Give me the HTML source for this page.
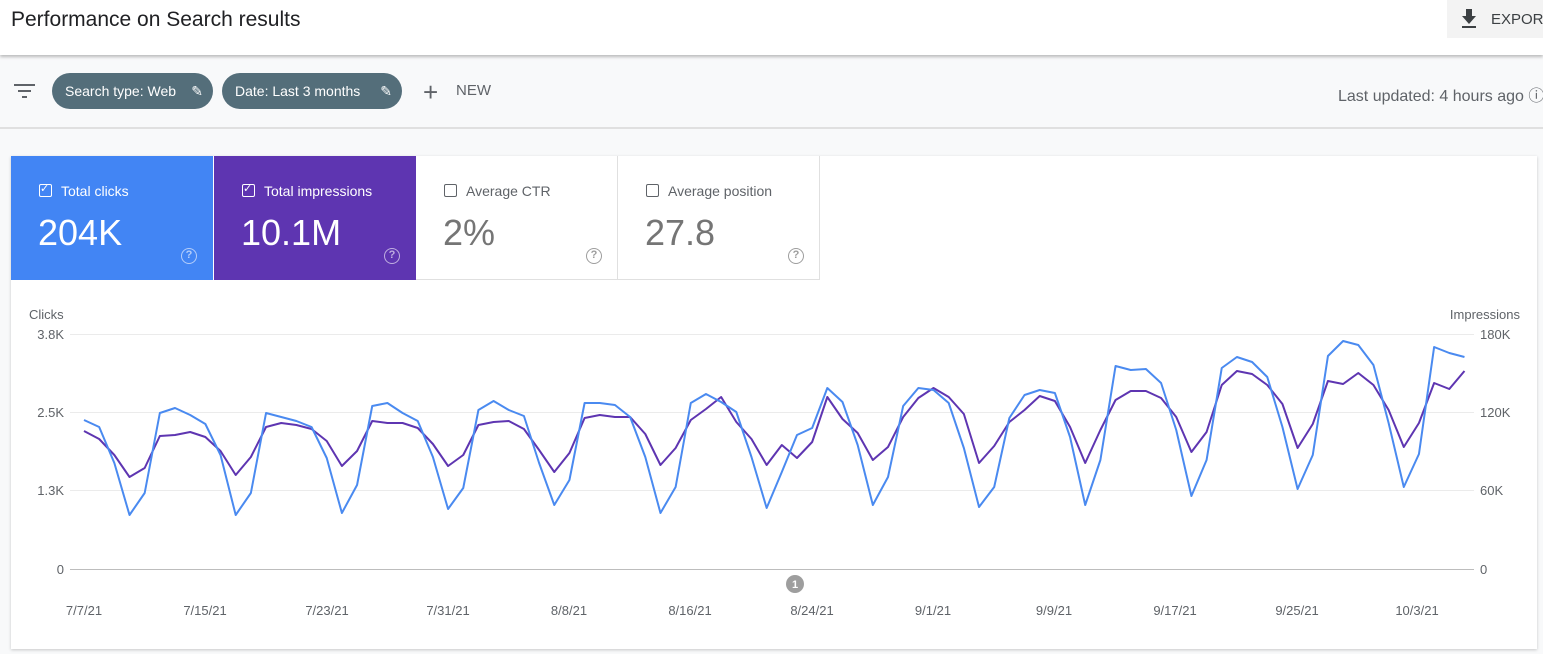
<!DOCTYPE html>
<html><head><meta charset="utf-8"><style>
body{margin:0;width:1543px;height:654px;overflow:hidden;background:#f8f9fa;font-family:"Liberation Sans",Arial,sans-serif;position:relative}
.a{position:absolute}
.chip{position:absolute;top:73px;height:36px;border-radius:18px;background:#546e7a;color:#fff;font-size:14px;line-height:36px;padding-left:13px;box-sizing:border-box}
.card{position:absolute;top:156px;height:124px;width:202px;box-sizing:border-box}
.lbl{position:absolute;left:28px;top:27px;font-size:14px}
.val{position:absolute;left:27px;top:56px;font-size:36px}
.cb{position:absolute;left:0;top:1px;width:13px;height:13px;border:1.5px solid;border-radius:2px;box-sizing:border-box}
.ck{position:absolute;left:1px;top:-1px;font-size:11px}
.q{position:absolute;left:170px;top:92px;width:16px;height:16px;border:1.5px solid;border-radius:50%;box-sizing:border-box;font-size:11px;text-align:center;line-height:13px;font-weight:bold}
.ax{font-size:13px;fill:#5f6368}
</style></head><body>
<div class="a" style="left:0;top:0;width:1543px;height:55px;background:#fff;box-shadow:0 2px 3px rgba(0,0,0,.25)"></div>
<div class="a" style="left:11px;top:8px;font-size:21px;color:#202124">Performance on Search results</div>
<div class="a" style="left:1447px;top:0;width:96px;height:38px;background:#f3f3f3"></div>
<svg class="a" style="left:1460px;top:9px" width="18" height="20"><path d="M6 0h6v7h4l-7 8-7-8h4z" fill="#3c4043"/><rect x="2" y="17" width="14" height="2" fill="#3c4043"/></svg>
<div class="a" style="left:1491px;top:11px;font-size:15px;color:#3c4043;white-space:nowrap">EXPORT</div>
<svg class="a" style="left:14px;top:84px" width="22" height="16"><rect x="0" y="0" width="21" height="2" fill="#5f6368"/><rect x="4" y="6" width="13" height="2" fill="#5f6368"/><rect x="8" y="12" width="5" height="2" fill="#5f6368"/></svg>
<div class="chip" style="left:52px;width:161px">Search type: Web<span style="position:absolute;right:10px;top:0">&#9998;</span></div>
<div class="chip" style="left:222px;width:180px">Date: Last 3 months<span style="position:absolute;right:10px;top:0">&#9998;</span></div>
<div class="a" style="left:423px;top:77px;font-size:26px;color:#5f6368;font-weight:300">+</div>
<div class="a" style="left:456px;top:82px;font-size:15px;color:#5f6368">NEW</div>
<div class="a" style="left:1338px;top:82px;font-size:16px;color:#5f6368;white-space:nowrap">Last updated: 4 hours ago ⓘ</div>
<div class="a" style="left:0;top:127px;width:1543px;height:2px;background:#e0e0e0"></div>
<div class="a" style="left:11px;top:156px;width:1526px;height:493px;background:#fff;box-shadow:0 1px 3px rgba(0,0,0,.2)"></div>
<div class="card" style="left:11px;background:#4285f4;color:#fff"><div class="lbl"><span class="cb" style="border-color:#fff"></span><span class="ck">✓</span><span style="margin-left:22px">Total clicks</span></div><div class="val">204K</div><div class="q" style="border-color:#b3cdfa;color:#b3cdfa">?</div></div>
<div class="card" style="left:214px;background:#5e35b1;color:#fff"><div class="lbl"><span class="cb" style="border-color:#fff"></span><span class="ck">✓</span><span style="margin-left:22px">Total impressions</span></div><div class="val">10.1M</div><div class="q" style="border-color:#bfaee0;color:#bfaee0">?</div></div>
<div class="card" style="left:416px;background:#fff;color:#5f6368;border-right:1px solid #e0e0e0;border-bottom:1px solid #e0e0e0"><div class="lbl"><span class="cb" style="border-color:#5f6368"></span><span style="margin-left:22px">Average CTR</span></div><div class="val" style="color:#757575">2%</div><div class="q" style="border-color:#9e9e9e;color:#9e9e9e">?</div></div>
<div class="card" style="left:618px;background:#fff;color:#5f6368;border-right:1px solid #e0e0e0;border-bottom:1px solid #e0e0e0"><div class="lbl"><span class="cb" style="border-color:#5f6368"></span><span style="margin-left:22px">Average position</span></div><div class="val" style="color:#757575">27.8</div><div class="q" style="border-color:#9e9e9e;color:#9e9e9e">?</div></div>
<svg class="a" style="left:0;top:0" width="1543" height="654">
<text x="29" y="319" class="ax">Clicks</text><text x="1520" y="319" class="ax" text-anchor="end">Impressions</text>
<g stroke="#ebebeb" stroke-width="1"><line x1="70" y1="334.5" x2="1474" y2="334.5"/><line x1="70" y1="412.5" x2="1474" y2="412.5"/><line x1="70" y1="490.5" x2="1474" y2="490.5"/></g>
<line x1="70" y1="569.5" x2="1474" y2="569.5" stroke="#bdbdbd"/>
<g class="ax" text-anchor="end"><text x="64" y="339">3.8K</text><text x="64" y="417">2.5K</text><text x="64" y="495">1.3K</text><text x="64" y="574">0</text></g>
<g class="ax"><text x="1480" y="339">180K</text><text x="1480" y="417">120K</text><text x="1480" y="495">60K</text><text x="1480" y="574">0</text></g>
<g class="ax" text-anchor="middle"><text x="84" y="615">7/7/21</text><text x="205" y="615">7/15/21</text><text x="327" y="615">7/23/21</text><text x="448" y="615">7/31/21</text><text x="569" y="615">8/8/21</text><text x="690" y="615">8/16/21</text><text x="812" y="615">8/24/21</text><text x="933" y="615">9/1/21</text><text x="1054" y="615">9/9/21</text><text x="1175" y="615">9/17/21</text><text x="1297" y="615">9/25/21</text><text x="1417" y="615">10/3/21</text></g>
<circle cx="795" cy="584" r="9" fill="#9e9e9e"/><text x="795" y="588" font-size="11" fill="#fff" text-anchor="middle" font-weight="bold">1</text>
<g transform="translate(84,0) scale(15.17,1)" fill="none" stroke-width="2" stroke-linejoin="round">
<polyline vector-effect="non-scaling-stroke" stroke="#5e35b1" points="0,431 1,439 2,455 3,477 4,468 5,436 6,435 7,432 8,437 9,451 10,475 11,457 12,427 13,423 14,425 15,429 16,441 17,466 18,451 19,421 20,423 21,423 22,428 23,444 24,466 25,455 26,425 27,422 28,421 29,429 30,450 31,472 32,453 33,418 34,415 35,417 36,417 37,434 38,465 39,448 40,420 41,409 42,397 43,422 44,439 45,465 46,445 47,458 48,442 49,397 50,419 51,433 52,460 53,447 54,417 55,398 56,388 57,397 58,414 59,463 60,446 61,422 62,410 63,396 64,401 65,427 66,463 67,430 68,400 69,391 70,391 71,398 72,417 73,452 74,432 75,385 76,371 77,374 78,385 79,404 80,448 81,424 82,381 83,384 84,373 85,385 86,410 87,447 88,423 89,383 90,389 91,371"/>
<polyline vector-effect="non-scaling-stroke" stroke="#4a8af0" points="0,420 1,427 2,463 3,515 4,493 5,413 6,408 7,415 8,424 9,455 10,515 11,493 12,413 13,417 14,421 15,427 16,458 17,513 18,485 19,406 20,403 21,413 22,421 23,457 24,509 25,488 26,410 27,401 28,410 29,416 30,463 31,505 32,480 33,403 34,403 35,405 36,417 37,457 38,513 39,487 40,403 41,394 42,402 43,412 44,457 45,508 46,472 47,435 48,428 49,388 50,402 51,445 52,505 53,477 54,406 55,388 56,390 57,403 58,448 59,507 60,487 61,418 62,395 63,390 64,393 65,437 66,505 67,460 68,366 69,370 70,369 71,383 72,430 73,496 74,460 75,368 76,357 77,362 78,377 79,427 80,489 81,455 82,356 83,341 84,345 85,365 86,423 87,487 88,454 89,347 90,353 91,357"/>
</g>
</svg>
</body></html>
